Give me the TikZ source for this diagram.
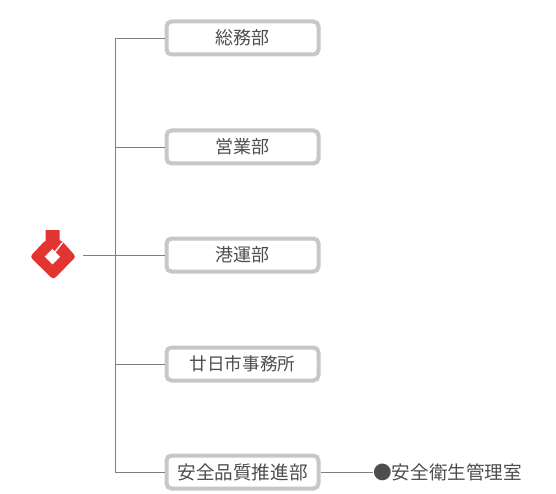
\documentclass[tikz,border=0pt]{standalone}
\usepackage{fontspec}
\setmainfont{Noto Sans CJK JP}
\usetikzlibrary{positioning}
\definecolor{boxgray}{RGB}{198,198,203}
\definecolor{linegray}{RGB}{125,128,130}
\definecolor{textgray}{RGB}{78,78,80}
\definecolor{logored}{RGB}{226,52,48}
\tikzset{
  dept/.style={draw=boxgray,line width=4pt,rounded corners=5pt,fill=white,minimum width=152pt,minimum height=33pt,inner sep=0pt,text=textgray,font=\fontsize{18}{18}\selectfont},
  link/.style={draw=linegray,line width=0.9pt}
}
\begin{document}
\begin{tikzpicture}[x=1pt,y=-1pt]
\useasboundingbox (0,0) rectangle (556,494);
\node[dept] (A) at (242.5,38) {総務部};
\node[dept] (B) at (242.5,147) {営業部};
\node[dept] (C) at (242.5,255) {港運部};
\node[dept,font=\fontsize{17.6}{17.6}\selectfont] (D) at (242.5,364) {廿日市事務所};
\node[dept,font=\fontsize{18.6}{18.6}\selectfont] (E) at (242.5,472) {安全品質推進部};
\node[anchor=west,inner sep=0pt,text=textgray,font=\fontsize{18.6}{18.6}\selectfont] (F) at (373,472) {●安全衛生管理室};
\coordinate (logo) at (83,255);
\coordinate (trunk) at (115,255);
\draw[link] (logo) -- (C.west);
\draw[link] (A.west) -| (trunk);
\draw[link] (B.west) -| (trunk);
\draw[link] (D.west) -| (trunk);
\draw[link] (E.west) -| (trunk);
\draw[link] (E.east) -- (F.west);
% logo
\fill[logored,rounded corners=0.5pt] (45.7,230) -- (59.7,230) -- (59.7,241) -- (45.7,241) -- cycle;
\fill[logored,rounded corners=3pt] (45.7,240) -- (61,240) -- (76,256.7) -- (53.3,279.5) -- (30,256.7) -- cycle;
\fill[white] (44.7,256.7) -- (52.4,249) -- (60.1,256.7) -- (52.4,264.4) -- cycle;
\draw[white,line width=1.4pt] (55,252) -- (62.5,242.5);
\end{tikzpicture}
\end{document}
